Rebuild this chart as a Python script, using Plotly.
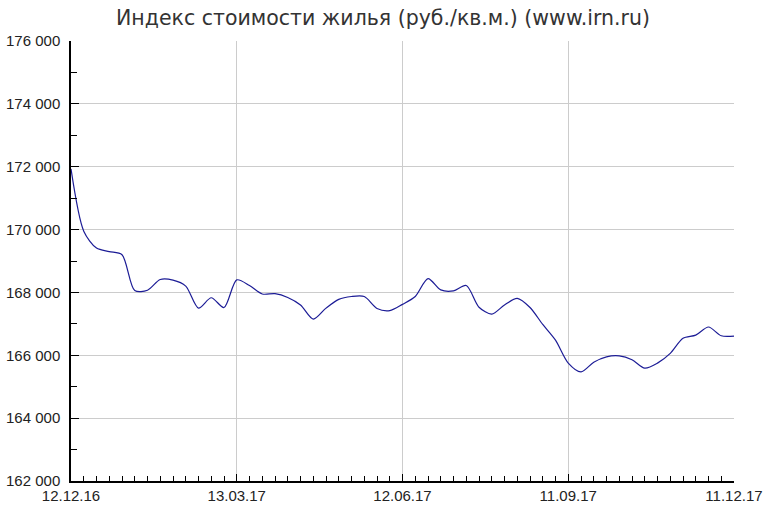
import pandas as pd
import plotly.graph_objects as go

title_text = "Индекс стоимости жилья (руб./кв.м.) (www.irn.ru)"

# weekly observations starting 12.12.2016
start_date = "2016-12-12"
values = [
    171930, 169950, 169410, 169300, 169200, 168060, 168070, 168410, 168390, 168200,
    167500, 167830, 167520, 168400, 168220, 167950, 167960, 167840, 167600, 167150,
    167500, 167780, 167870, 167870, 167490, 167420, 167620, 167870, 168440, 168080,
    168050, 168220, 167530, 167310, 167600, 167810, 167520, 166980, 166480, 165750,
    165470, 165780, 165950, 165980, 165860, 165590, 165750, 166060, 166540, 166640,
    166900, 166620, 166610,
]
dates = pd.date_range(start_date, periods=len(values), freq="7D")

x_tick_vals = ["2016-12-12", "2017-03-13", "2017-06-12", "2017-09-11", "2017-12-11"]
x_tick_text = ["12.12.16", "13.03.17", "12.06.17", "11.09.17", "11.12.17"]
y_range = [162000, 176000]

W, H = 768, 523

fig = go.Figure()
fig.add_trace(go.Scatter(
    x=dates, y=values, mode="lines",
    line=dict(color="#1c1c96", width=1.2, shape="spline", smoothing=0.8),
    hoverinfo="x+y",
))

fig.update_layout(
    width=W, height=H,
    margin=dict(l=71, r=34, t=41, b=42, autoexpand=False),
    paper_bgcolor="white", plot_bgcolor="white",
    separators=". ",
    showlegend=False,
    title=dict(text=title_text, x=383 / W, xanchor="center", y=1 - 18 / H, yanchor="middle",
               yref="container",
               font=dict(family="DejaVu Sans", size=20.5, color="#333333")),
    font=dict(family="Liberation Sans, Arial", size=15, color="#222222"),
)

fig.update_xaxes(
    type="date",
    range=[x_tick_vals[0], x_tick_vals[-1]],
    tickvals=x_tick_vals, ticktext=x_tick_text,
    showgrid=True, gridcolor="#cccccc", gridwidth=1,
    showline=True, linecolor="black", linewidth=1.5,
    ticks="inside", ticklen=7, tickcolor="black", tickwidth=1,
    minor=dict(dtick=7 * 86400000, tick0=start_date, ticks="inside", ticklen=5,
               tickcolor="black", tickwidth=1, showgrid=False),
    zeroline=False, fixedrange=True, automargin=False,
)
fig.update_yaxes(
    range=y_range, dtick=2000, tick0=162000,
    tickformat=",d",
    showgrid=True, gridcolor="#cccccc", gridwidth=1,
    showline=True, linecolor="black", linewidth=1.5,
    ticks="inside", ticklen=8, tickcolor="black", tickwidth=1,
    ticklabelstandoff=6,
    minor=dict(dtick=1000, ticks="inside", ticklen=6, tickcolor="black", tickwidth=1,
               showgrid=False),
    zeroline=False, fixedrange=True, automargin=False,
)

fig.write_html(
    "out.html",
    config={"displayModeBar": False},
    post_script="document.body.style.margin='0';document.body.style.overflow='hidden';",
)
